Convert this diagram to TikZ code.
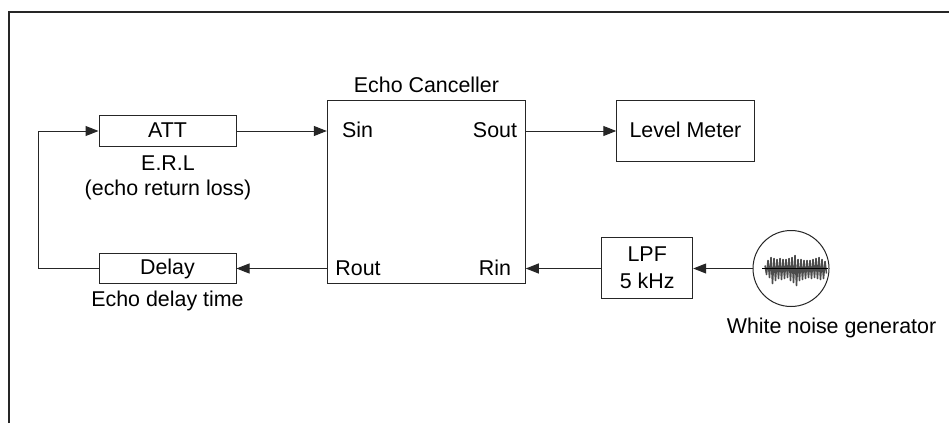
\documentclass[tikz,border=0pt]{standalone}
\usepackage{fontspec}
\setmainfont{Liberation Sans}
\usetikzlibrary{arrows.meta,calc}
\newcommand{\lbl}{\fontsize{21.4}{26.6}\selectfont}
\tikzset{
  box/.style={draw=black!85,line width=1pt,inner sep=0pt,align=center,font=\lbl},
  sbox/.style={box,text height=12pt,text depth=0pt},
  lbl/.style={inner sep=0pt,font=\lbl,anchor=base},
  conn/.style={draw=black!85,line width=1pt},
  arr/.style={conn,-{Triangle[length=13pt,width=10pt]}},
}
\begin{document}
\begin{tikzpicture}[x=1pt,y=-1pt]
\useasboundingbox (0,0) rectangle (949,423);
\fill[white] (0,0) rectangle (949,423);
\draw[line width=1.1pt,black!85] (9,423) -- (9,12) -- (949,12);
\node[sbox,minimum width=137pt,minimum height=30.5pt] (att) at (167.5,131) {ATT};
\node[sbox,minimum width=137pt,minimum height=30.5pt] (delay) at (167.5,268.5) {Delay};
\node[box,minimum width=198pt,minimum height=183pt] (ec) at (426.3,192.2) {};
\node[sbox,minimum width=137.3pt,minimum height=61.4pt] (lm) at (685.4,131) {Level Meter};
\node[box,minimum width=91pt,minimum height=60.6pt] (lpf) at (647.2,268) {LPF\\5 kHz};
\node[draw=black!85,line width=1pt,circle,minimum size=76pt,inner sep=0pt] (wn) at (791,268.5) {};
\node[lbl] (t1) at (426.5,92.7) {Echo Canceller};
\node[lbl] (sin) at (357.5,137) {Sin};
\node[lbl] (sout) at (495,137) {Sout};
\node[lbl] (rout) at (358,275) {Rout};
\node[lbl] (rin) at (495,275) {Rin};
\node[lbl] (erl) at (168,170) {E.R.L};
\node[lbl] (erl2) at (168,195) {(echo return loss)};
\node[lbl] (edt) at (167.5,306) {Echo delay time};
\node[lbl] (wng) at (831.5,333.3) {White noise generator};
\coordinate (lx) at (38.5,0);
\draw[conn] (delay.west) -- (delay.west -| lx) -- (att.west -| lx);
\draw[arr] (att.west -| lx) -- (att.west);
\draw[arr] (att.east) -- (att.east -| ec.west);
\draw[arr] (ec.east |- lm.west) -- (lm.west);
\draw[arr] (ec.west |- delay.east) -- (delay.east);
\draw[arr] (lpf.west |- wn.west) -- (ec.east |- wn.west);
\draw[arr] (wn.west) -- (lpf.east |- wn.west);
\draw[black!70,line width=1.5pt,line join=round] plot coordinates {
(765,265.5)(766.5,274.5)(768,260.5)(769.5,277.5)(771,257.5)(772.5,283.5)(774,258.5)(775.5,280.5)(777,259.5)(778.5,278.5)(780,258.5)(781.5,279.5)(783,259.5)(784.5,278.5)(786,259.5)(787.5,277.5)(789,258.5)(790.5,280.5)(792,257.5)(793.5,282.5)(795,255.5)(796.5,285.5)(798,259.5)(799.5,280.5)(801,259.5)(802.5,279.5)(804,260.5)(805.5,278.5)(807,260.5)(808.5,277.5)(810,260.5)(811.5,278.5)(813,259.5)(814.5,277.5)(816,258.5)(817.5,278.5)(819,257.5)(820.5,279.5)(822,259.5)(823.5,278.5)(825,261.5)(826.5,273.5)};
\draw[black,line width=.9pt] (wn.center) ++(-29,0) -- ++(66,0);
\end{tikzpicture}
\end{document}
